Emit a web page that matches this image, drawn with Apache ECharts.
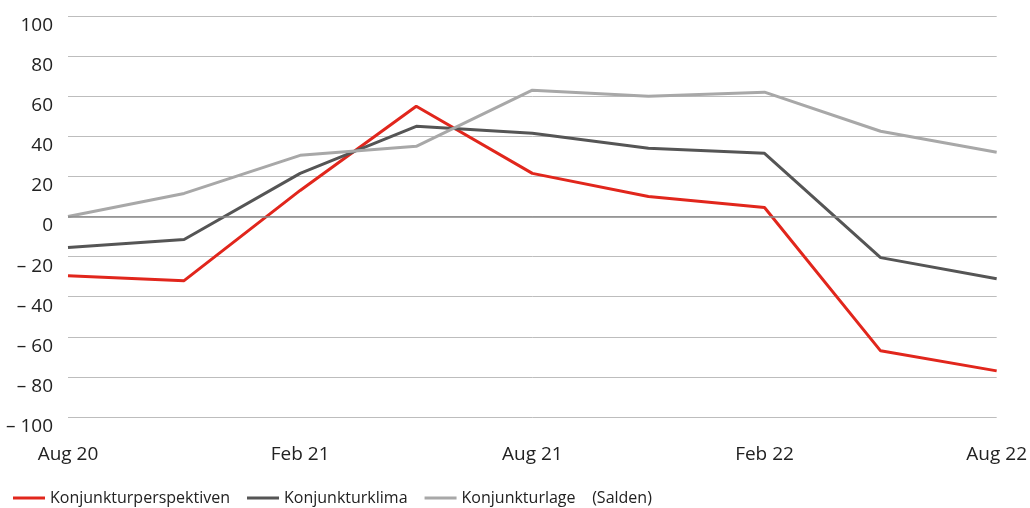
<!DOCTYPE html>
<html>
<head>
<meta charset="utf-8">
<script src="https://cdn.jsdelivr.net/npm/echarts@6/dist/echarts.min.js"></script>
<style>html,body{margin:0;padding:0;background:#fff}#c{width:1030px;height:508px}</style>
</head>
<body>
<div id="c"></div>
<script>
const categories = ['Aug 20','Nov 20','Feb 21','May 21','Aug 21','Nov 21','Feb 22','May 22','Aug 22'];
const xTickLabels = {0:'Aug 20',2:'Feb 21',4:'Aug 21',6:'Feb 22',8:'Aug 22'};
const perspektiven = [-29.5, -32, 13, 55, 21.5, 10, 4.5, -67, -77];
const klima = [-15.5, -11.5, 21.5, 45, 41.5, 34, 31.5, -20.5, -31];
const lage = [0, 11.5, 30.5, 35, 63, 60, 62, 42.5, 32];
const seriesNames = ['Konjunkturperspektiven', 'Konjunkturklima', 'Konjunkturlage    (Salden)'];

const chart = echarts.init(document.getElementById('c'), null, {renderer:'canvas'});
const font = '"Open Sans", "Noto Sans", sans-serif';
function mk(name, data, color){
  return {name, type:'line', data, symbol:'none', smooth:false,
    lineStyle:{color, width:3}, itemStyle:{color}, animation:false};
}
chart.setOption({
  animation:false,
  grid:{left:68, right:30, top:16, bottom:91, containLabel:false},
  legend:{
    left:8, top:485, itemWidth:32, itemHeight:3, itemGap:17, icon:'rect',
    textStyle:{fontFamily:font, fontSize:16, color:'#222'},
    data:seriesNames
  },
  xAxis:{
    type:'category', boundaryGap:false, data:categories,
    axisLine:{show:false}, axisTick:{show:false},
    axisLabel:{interval:0, margin:28, fontFamily:font, fontSize:19, color:'#222',
      formatter:(v,i)=> xTickLabels[i] || ''},
    splitLine:{show:false}
  },
  yAxis:{
    type:'value', min:-100, max:100, interval:20,
    axisLine:{show:false}, axisTick:{show:false},
    axisLabel:{margin:15, fontFamily:font, fontSize:19, color:'#222', verticalAlign:'top', lineHeight:19,
      formatter:v=> v<0 ? '\u2013 ' + Math.abs(v) : String(v)},
    splitLine:{lineStyle:{color:'#bdbdbd', width:1}}
  },
  series:[
    mk(seriesNames[0], perspektiven, '#e1261c'),
    mk(seriesNames[1], klima, '#555555'),
    mk(seriesNames[2], lage, '#a8a8a8'),
    {type:'line', data:[], markLine:{silent:true, symbol:'none', label:{show:false},
      lineStyle:{color:'#8a8a8a', width:1.5, type:'solid'}, data:[{yAxis:0}]}}
  ]
});
</script>
</body>
</html>
